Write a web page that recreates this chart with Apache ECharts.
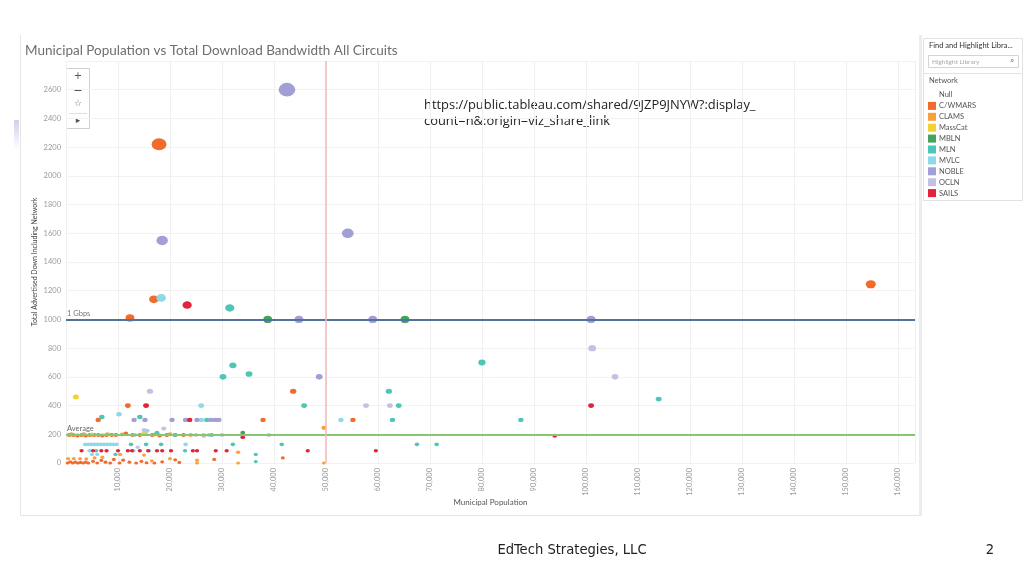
<!DOCTYPE html>
<html><head><meta charset="utf-8">
<script src="https://cdn.jsdelivr.net/npm/echarts@6/dist/echarts.min.js"></script>
<style>html,body{margin:0;padding:0;background:#fff}#c{width:1024px;height:576px}</style>
</head><body><div id="c"></div><script>
// ---- data (population, total advertised download bandwidth) ----
const networkNames = ['Null','C/WMARS','CLAMS','MassCat','MBLN','MLN','MVLC','NOBLE','OCLN','SAILS'];
const networkColors = ['rgba(0,0,0,0)','#F26B2C','#F8A13A','#F5D033','#44A45F','#4EC6B7','#8DD8E9','#A29FD6','#C2C3E4','#E3223B'];
const nullNet = [];
const cwmars = [[17900,2220],[154800,1245],[16900,1140],[12300,1010],[11900,400],[6200,300],[37900,300],[43700,500],[55200,300],[41700,35],
  [600,195],[1400,195],[2200,192],[3000,195],[3800,192],[4600,195],[5400,195],[6200,195],[7000,192],[7800,195],[8800,195],[9600,195],[11500,205],[12800,195],[14200,195],[16600,195],[18000,192],[19400,195],[21000,195],[22600,195],
  [300,0],[800,8],[1300,0],[1800,6],[2300,0],[2800,4],[3300,0],[3800,6],[4300,0],[5200,12],[6000,0],[6800,18],[7600,6],[8500,0],[9200,25],[10300,0],[11000,20],[12200,6],[13500,0],[14500,12],[15500,2],[17000,0],[18500,8],[21000,22],[21800,4],[28500,25]];
const clams = [[49600,245],[49600,0],[33100,0],[33100,75],[25200,20],[25200,0],[10400,60],[15000,55],[400,30],[1500,30],[2700,30],[3900,28],[5500,35],[7000,40],[16500,15],[20000,30],
  [1000,200],[3400,200],[8000,200],[10800,198],[15200,205],[17200,200],[20000,200],[24000,195],[26500,190]];
const masscat = [[1900,460],[15000,210],[5000,198]];
const mbln = [[38800,1000],[65200,1000],[34000,210]];
const mln = [[31500,1080],[32100,680],[30200,600],[35200,620],[45800,400],[62100,500],[64000,400],[62800,300],[80000,700],[87500,300],[114000,445],[6900,320],[14200,320],[27100,300],
  [12500,130],[15400,130],[18300,130],[32100,130],[41500,130],[67500,130],[71300,130],[22900,85],[36500,60],[36500,10],[17500,210],[5800,85],[9500,60],[21000,195],[28000,195]];
const mvlc = [[18300,1150],[10200,340],[26000,400],[26100,300],[52900,300],[3700,130],[4300,130],[4900,130],[5500,130],[6100,130],[6700,130],[7300,130],[7900,130],[8500,130],[9100,130],[9700,130],[23000,130],
  [4500,85],[5000,60],[6000,60],[13000,85],[16000,85],[15600,225],[13200,195]];
const noble = [[42500,2600],[18500,1550],[54200,1600],[44800,1000],[59000,1000],[101000,1000],[48700,600],[13100,300],[15200,300],[20400,300],[23000,300],[25200,300],[27900,300],[28700,300],[29400,300]];
const ocln = [[101200,800],[105600,600],[16150,500],[57700,400],[62300,400],[15000,230],[13800,110],[39000,195],[25000,195],[26500,195],[27500,195],[30000,195],[18800,240]];
const sails = [[23300,1100],[15400,400],[101000,400],[94000,190],[23800,300],[34000,180],[3000,85],[5200,85],[6800,85],[7800,85],[10000,85],[11900,85],[12700,85],[14200,85],[15800,85],[17500,85],[18500,85],[20200,85],[24400,85],[25200,85],[28800,85],[30900,85],[46500,85],[59600,85]];
const networkData = [nullNet,cwmars,clams,masscat,mbln,mln,mvlc,noble,ocln,sails];
const gbpsLine = 1000;
const avgBandwidth = 200;
const populationRef = 50000;

const chart = echarts.init(document.getElementById('c'), null, {renderer:'canvas'});
const FONT = 'Lato';
function sz(v){ const d = 3.5 + 0.0045*v[1]; return [d*1.1, d*0.9]; }

const series = networkNames.map((n,i)=>({
  name:n, type:'scatter', data:networkData[i], symbol:'circle', symbolSize:sz,
  itemStyle:{color:networkColors[i], opacity:1}, z:3, clip:false,
  emphasis:{disabled:true}
}));
series.push({
  name:'refs', type:'line', data:[], z:1, silent:true,
  markLine:{silent:true, symbol:'none', animation:false,
    data:[
      {yAxis:gbpsLine, lineStyle:{color:'#52729A', width:2, type:'solid'},
       label:{show:true, position:'insideStartTop', formatter:'1 Gbps', color:'#777', fontSize:7.5, fontFamily:FONT, distance:[1,2]}},
      {yAxis:avgBandwidth, lineStyle:{color:'#86C574', width:2, type:'solid'},
       label:{show:true, position:'insideStartTop', formatter:'Average', color:'#666', fontSize:7.5, fontFamily:FONT, distance:[1,2]}},
      {xAxis:populationRef, lineStyle:{color:'#F2B9BC', width:1.5, type:'solid'}, label:{show:false}}
    ]}
});

const option = {
  backgroundColor:'#fff',
  animation:false,
  title:{text:'Municipal Population vs Total Download Bandwidth All Circuits', left:20, top:39,
    textStyle:{color:'#6e6e6e', fontSize:13.5, fontWeight:'normal', fontFamily:FONT}},
  grid:{left:66, right:109, top:61, bottom:113, containLabel:false},
  xAxis:{type:'value', min:0, max:163300, interval:10000,
    name:'Municipal Population', nameLocation:'middle', nameGap:35, nameMoveOverlap:false,
    nameTextStyle:{color:'#555', fontSize:8, fontFamily:FONT},
    axisLine:{show:false}, axisTick:{show:false},
    axisLabel:{rotate:90, margin:5, color:'#9a9a9a', fontSize:7.5, fontFamily:FONT,
      formatter:v=> (v===0 || v%10000!==0) ? '' : v.toLocaleString('en-US')},
    splitLine:{show:true, lineStyle:{color:'#f0f0f0', width:1}}},
  yAxis:{type:'value', min:0, max:2800, interval:200,
    name:'Total Advertised Down Including Network', nameLocation:'middle', nameGap:28, nameMoveOverlap:false,
    nameTextStyle:{color:'#444', fontSize:7, fontFamily:FONT},
    axisLine:{show:false}, axisTick:{show:false},
    axisLabel:{margin:5, color:'#9a9a9a', fontSize:7.5, fontFamily:FONT, formatter:v=> v>2600 ? '' : String(v)},
    splitLine:{show:true, lineStyle:{color:'#f2f2f2', width:1}}},
  legend:{orient:'vertical', left:928, top:91, padding:0, itemWidth:8, itemHeight:8, itemGap:2.9, icon:'rect',
    data:networkNames.map((n,i)=> i===0 ? {name:n, itemStyle:{color:'rgba(0,0,0,0)'}} : n),
    textStyle:{color:'#555', fontSize:7.5, fontFamily:FONT, lineHeight:8, padding:[0,0,0,-2]}, selectedMode:false},
  graphic:[
    // tableau frame
    {type:'line', shape:{x1:20.5,y1:35,x2:20.5,y2:515}, style:{stroke:'#e6e6e6', lineWidth:1}},
    {type:'line', shape:{x1:20,y1:515.5,x2:920,y2:515.5}, style:{stroke:'#e6e6e6', lineWidth:1}},
    {type:'rect', shape:{x:919,y:35,width:3,height:481}, style:{fill:'#ececec'}},
    {type:'rect', shape:{x:14,y:120,width:5,height:30}, style:{fill:new echarts.graphic.LinearGradient(0,0,0,1,[{offset:0,color:'#d6cdea'},{offset:1,color:'#ffffff'}])}},
    // right panel
    {type:'rect', shape:{x:923.5,y:38.5,width:99,height:162}, style:{fill:'none', stroke:'#e2e2e2', lineWidth:1}},
    {type:'text', x:929, y:42, style:{text:'Find and Highlight Libra...', fill:'#333', fontSize:7.5, fontFamily:FONT}},
    {type:'rect', shape:{x:928.5,y:55.5,width:90,height:12}, style:{fill:'#fff', stroke:'#d4d4d4', lineWidth:1}},
    {type:'text', x:932, y:58, style:{text:'Highlight Library', fill:'#aaa', fontSize:6.5, fontFamily:FONT}},
    {type:'text', x:1010, y:57, style:{text:'⌕', fill:'#888', fontSize:8, fontFamily:'DejaVu Sans'}},
    {type:'line', shape:{x1:923,y1:73.5,x2:1022,y2:73.5}, style:{stroke:'#e2e2e2', lineWidth:1}},
    {type:'text', x:929, y:77, style:{text:'Network', fill:'#555', fontSize:7.5, fontFamily:FONT}},
    // zoom toolbar
    {type:'rect', shape:{x:66.5,y:68.5,width:23,height:60}, style:{fill:'#fff', stroke:'#cfcfcf', lineWidth:1}},
    {type:'text', x:78, y:76, style:{text:'+', fill:'#555', fontSize:10, fontFamily:'DejaVu Sans', align:'center', verticalAlign:'middle'}},
    {type:'line', shape:{x1:74.5,y1:90.5,x2:81.5,y2:90.5}, style:{stroke:'#555', lineWidth:1}},
    {type:'text', x:78, y:104, style:{text:'☆', fill:'#777', fontSize:9, fontFamily:'DejaVu Sans', align:'center', verticalAlign:'middle'}},
    {type:'line', shape:{x1:69,y1:113.5,x2:87,y2:113.5}, style:{stroke:'#e0e0e0', lineWidth:1}},
    {type:'text', x:78, y:121, style:{text:'▸', fill:'#555', fontSize:9, fontFamily:'DejaVu Sans', align:'center', verticalAlign:'middle'}},
    // url annotation
    {type:'text', x:424, y:105, style:{text:'https://public.tableau.com/shared/9JZP9JNYW?:display_', fill:'#222', fontSize:12.9, fontFamily:'Open Sans', verticalAlign:'middle'}},
    {type:'text', x:424, y:121, style:{text:'count=n&:origin=viz_share_link', fill:'#222', fontSize:12.9, fontFamily:'Open Sans', verticalAlign:'middle'}},
    // slide footer
    {type:'text', x:572, y:550, style:{text:'EdTech Strategies, LLC', fill:'#222', fontSize:14.6, fontFamily:'DejaVu Sans Condensed', align:'center', verticalAlign:'middle'}},
    {type:'text', x:990, y:550, style:{text:'2', fill:'#222', fontSize:14.6, fontFamily:'DejaVu Sans Condensed', align:'center', verticalAlign:'middle'}}
  ],
  series:series
};
chart.setOption(option);
</script></body></html>
